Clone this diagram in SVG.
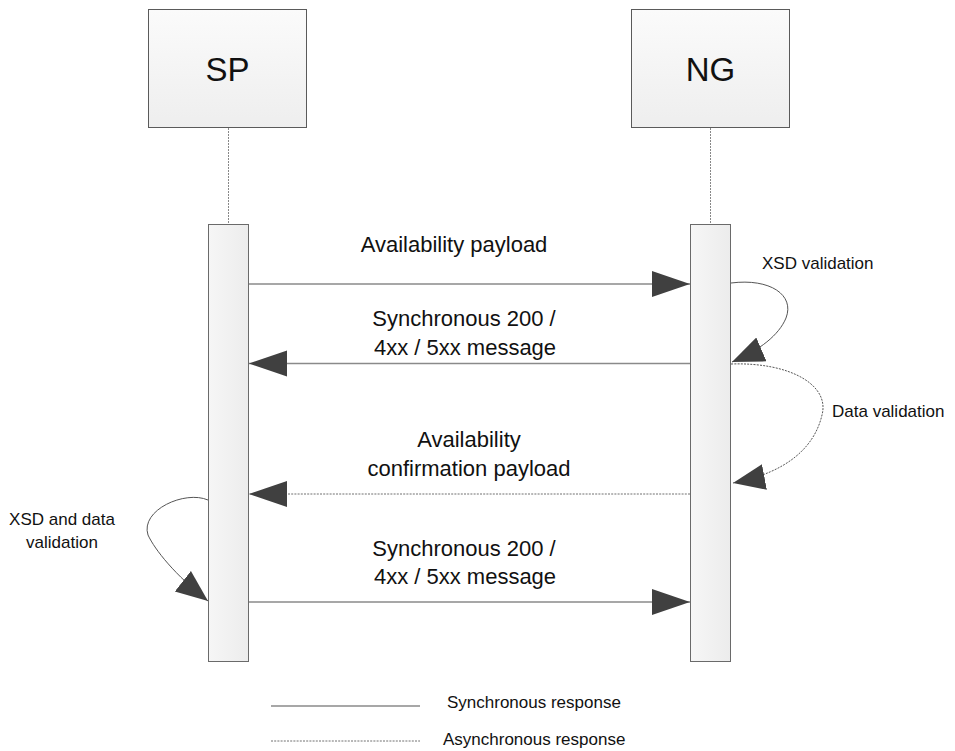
<svg xmlns="http://www.w3.org/2000/svg" width="955" height="751" viewBox="0 0 955 751">
<defs>
<linearGradient id="boxg" x1="0" y1="0" x2="0" y2="1"><stop offset="0" stop-color="#fbfbfb"/><stop offset="1" stop-color="#eeeeee"/></linearGradient>
<linearGradient id="barg" x1="0" y1="0" x2="1" y2="0"><stop offset="0" stop-color="#f6f6f6"/><stop offset="1" stop-color="#ececec"/></linearGradient>
<marker id="ah" markerUnits="userSpaceOnUse" markerWidth="40" markerHeight="28" refX="38" refY="13" orient="auto" viewBox="0 0 40 28">
<path d="M0,0 L38,13 L0,26 z" fill="#404040"/>
</marker>
<marker id="ahs" markerUnits="userSpaceOnUse" markerWidth="34" markerHeight="28" refX="32" refY="13" orient="auto" viewBox="0 0 34 28">
<path d="M0,0 L32,13 L0,26 z" fill="#404040"/>
</marker>
</defs>
<style>
.box{fill:url(#boxg);stroke:#5a5a5a;stroke-width:1}
.bar{fill:url(#barg);stroke:#6a6a6a;stroke-width:1}
.life{stroke:#888;stroke-width:1;stroke-dasharray:2,1;fill:none}
.msg{stroke:#8a8a8a;stroke-width:1.3;fill:none}
.dash{stroke-dasharray:2,1.2;stroke:#707070;stroke-width:1}
.loop{stroke:#555;stroke-width:1;fill:none}
text{font-family:"Liberation Sans",Arial,sans-serif;fill:#111}
.big{font-size:33px;text-anchor:middle}
.lbl{font-size:22px;text-anchor:middle}
.sm{font-size:17px}
</style>
<rect width="955" height="751" fill="#ffffff"/>
<g id="SP">
<rect class="box" x="148.5" y="9.5" width="158" height="118"/>
<text class="big" x="227.5" y="81">SP</text>
<line class="life" x1="228.5" y1="128" x2="228.5" y2="224"/>
<rect class="bar" x="208.5" y="224.5" width="40" height="437"/>
</g>
<g id="NG">
<rect class="box" x="631.5" y="9.5" width="158" height="118"/>
<text class="big" x="710.5" y="81">NG</text>
<line class="life" x1="710.5" y1="128" x2="710.5" y2="224"/>
<rect class="bar" x="690.5" y="224.5" width="40" height="437"/>
</g>
<g id="connectors">
<line class="msg" x1="249" y1="284" x2="690" y2="284" marker-end="url(#ah)"/>
<line class="msg" x1="690" y1="363.5" x2="249" y2="363.5" marker-end="url(#ah)"/>
<line class="msg dash" x1="690" y1="494" x2="249" y2="494" marker-end="url(#ah)"/>
<line class="msg" x1="249" y1="602" x2="690" y2="602" marker-end="url(#ah)"/>
<path class="loop" d="M731,283 C770,278 795,295 786,318 C779,335 760,350 732,362" marker-end="url(#ahs)"/>
<path class="loop dash" d="M731,364 C790,362 830,385 822,415 C815,445 790,472 733,483" marker-end="url(#ahs)"/>
<path class="loop" d="M208,500 C185,490 140,510 148,535 C155,550 175,575 208,601" marker-end="url(#ahs)"/>
</g>
<g id="labels">
<text class="lbl" x="454" y="252">Availability payload</text>
<text class="lbl" x="464" y="326">Synchronous 200 /</text>
<text class="lbl" x="465" y="355">4xx / 5xx message</text>
<text class="lbl" x="469" y="447">Availability</text>
<text class="lbl" x="469" y="476">confirmation payload</text>
<text class="lbl" x="464" y="556">Synchronous 200 /</text>
<text class="lbl" x="465" y="584">4xx / 5xx message</text>
<text class="sm" x="762" y="269">XSD validation</text>
<text class="sm" x="832" y="417">Data validation</text>
<text class="sm" x="62" y="525" text-anchor="middle">XSD and data</text>
<text class="sm" x="62" y="548" text-anchor="middle">validation</text>
</g>
<g id="legend">
<line class="msg" x1="271" y1="706" x2="420" y2="706"/>
<line class="msg dash" x1="271" y1="741" x2="420" y2="741"/>
<text class="sm" x="447" y="708">Synchronous response</text>
<text class="sm" x="443" y="745">Asynchronous response</text>
</g>
</svg>
